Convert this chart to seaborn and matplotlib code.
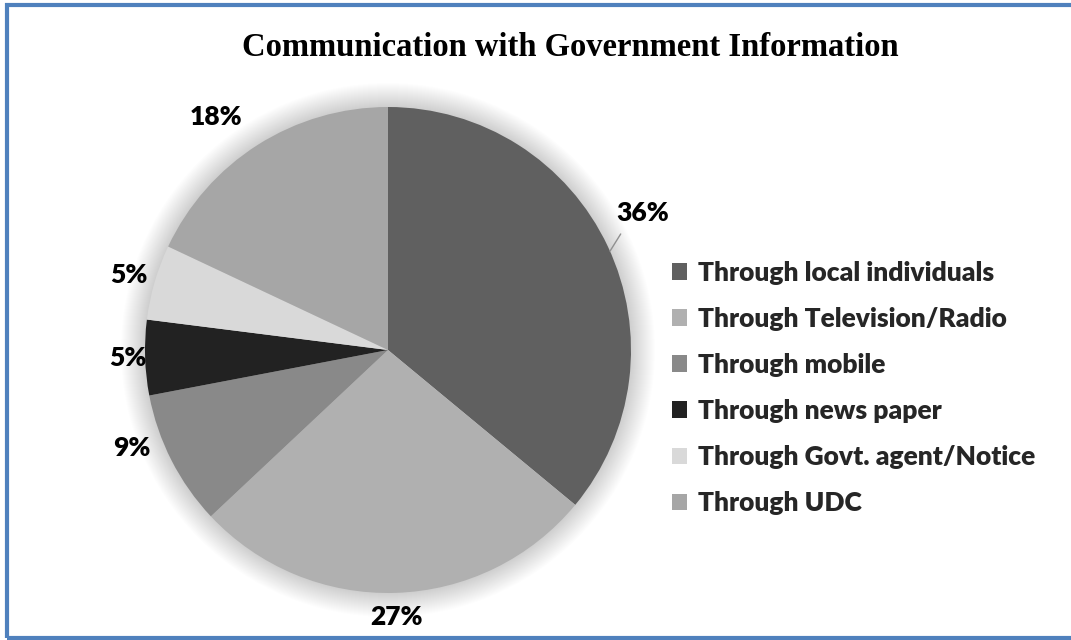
import numpy as np
import matplotlib.pyplot as plt
import seaborn as sns
from matplotlib.patches import Circle, Rectangle

# Data
categories = ['Through local individuals', 'Through Television/Radio', 'Through mobile',
              'Through news paper', 'Through Govt. agent/Notice', 'Through UDC']
shares = [36, 27, 9, 5, 5, 18]
colors = ['#606060', '#b0b0b0', '#898989', '#222222', '#d9d9d9', '#a6a6a6']

sns.set_theme(style='white')
plt.rcParams['font.family'] = ['Lato', 'DejaVu Sans']

W, H = 1071, 640
fig = plt.figure(figsize=(W / 100, H / 100), dpi=100)
ax = fig.add_axes([0, 0, 1, 1])

cx, cy, r = 388, H - 350, 243

# soft shadow around the pie
for k in range(24):
    ax.add_patch(Circle((cx, cy), r + 24 - k, color='black', alpha=0.006, lw=0, zorder=1))

wedges, _ = ax.pie(shares, colors=colors, startangle=90, counterclock=False,
                   center=(cx, cy), radius=r, frame=True,
                   wedgeprops=dict(linewidth=0, zorder=2))
ax.set_xlim(0, W)
ax.set_ylim(0, H)
ax.set_aspect('equal')
ax.axis('off')

# label placement (distance factor, angle tweak)
label_dist = [1.19, 1.10, 1.13, 1.07, 1.11, 1.19]
label_shift = [3, 0, -6, 0, 0, 4]
for w, v, d, s in zip(wedges, shares, label_dist, label_shift):
    ang = np.deg2rad((w.theta1 + w.theta2) / 2 + s)
    x = cx + r * d * np.cos(ang)
    y = cy + r * d * np.sin(ang)
    ax.text(x, y, f'{v}%', ha='center', va='center', fontsize=19,
            fontweight='heavy', color='black', zorder=5)

# leader line for the 36% label
a0 = np.deg2rad(24)
ax.plot([cx + r * np.cos(a0), cx + r * 1.07 * np.cos(np.deg2rad(26.5))],
        [cy + r * np.sin(a0), cy + r * 1.07 * np.sin(np.deg2rad(26.5))],
        color='#909090', lw=1, zorder=4)

ax.text(570, H - 47, 'Communication with Government Information', ha='center', va='center',
        fontsize=23.5, fontweight='bold', family='Liberation Serif', color='black')

leg = ax.legend(wedges, categories, loc='upper left', bbox_to_anchor=(661 / W, 1 - 250 / H),
                bbox_transform=fig.transFigure, frameon=False,
                prop=dict(weight='heavy', size=19), handlelength=0.6, handleheight=0.6,
                handletextpad=0.4, labelspacing=0.84, borderaxespad=0)

# blue frame
ax.add_patch(Rectangle((7, 2), 1200, H - 7, fill=False, edgecolor='#4f81bd', lw=3,
                       clip_on=False, zorder=6))

fig.savefig('out.png', dpi=100)
